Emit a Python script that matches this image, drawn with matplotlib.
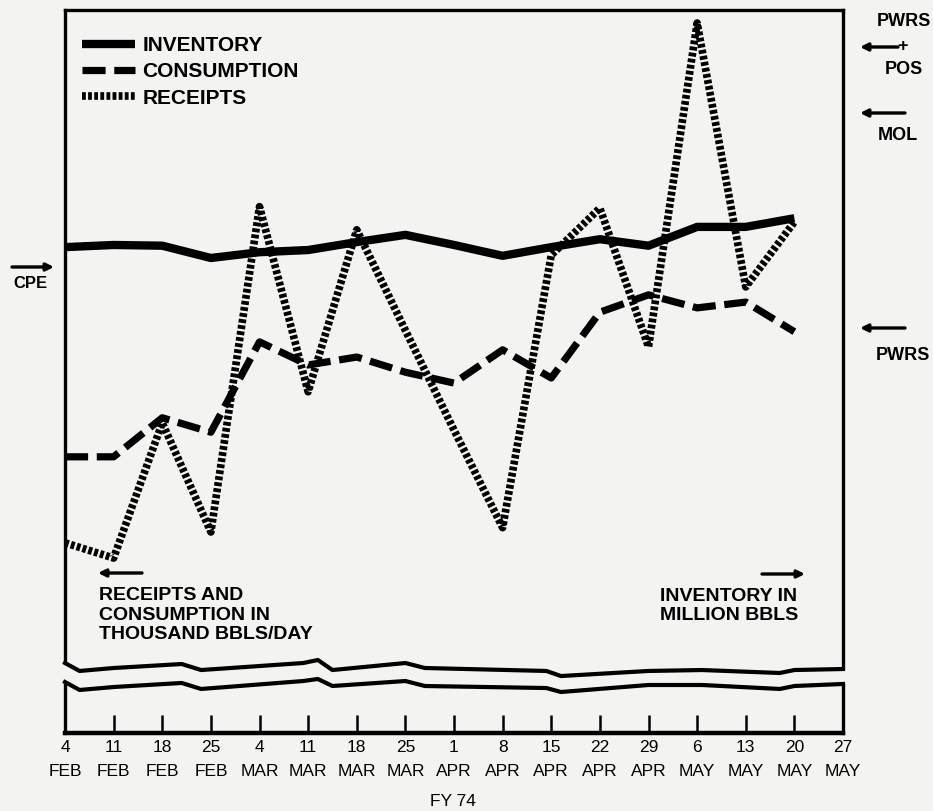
import matplotlib.pyplot as plt

W, H = 933, 811

# week ending dates, FY 74
weeks = ['4\nFEB', '11\nFEB', '18\nFEB', '25\nFEB', '4\nMAR', '11\nMAR', '18\nMAR',
         '25\nMAR', '1\nAPR', '8\nAPR', '15\nAPR', '22\nAPR', '29\nAPR', '6\nMAY',
         '13\nMAY', '20\nMAY', '27\nMAY']

# values (chart units, no scale printed on the original)
inventory = [67.2, 67.5, 67.4, 65.7, 66.5, 66.8, 67.9, 68.9, 67.5, 66.0, 67.2, 68.3,
             67.4, 70.0, 70.0, 71.2]
consumption = [38.2, 38.2, 43.6, 41.6, 54.1, 50.9, 52.0, 49.9, 48.4, 53.0, 49.1, 58.2,
               60.6, 58.8, 59.6, 55.5]
receipts = [26.3, 24.2, 42.9, 27.8, 72.8, 47.2, 69.6, 55.7, 41.9, 28.4, 66.1, 72.6,
            53.4, 98.2, 61.7, 70.7]

# wavy scale-break edges
break_x = [0, 0.3, 1, 2.4, 2.8, 4.9, 5.2, 5.5, 7.0, 7.4, 9.9, 10.2, 12.0, 13.1, 14.7, 15.0, 16]
break_top = [9.68, 8.58, 8.99, 9.54, 8.71, 9.68, 10.10, 8.71, 9.68, 8.99, 8.58, 7.88,
             8.58, 8.71, 8.30, 8.71, 8.85]
break_bot = [7.05, 5.95, 6.36, 6.92, 6.09, 7.19, 7.47, 6.50, 7.19, 6.50, 6.22, 5.67,
             6.64, 6.64, 6.09, 6.50, 6.78]

BG = '#f3f3f1'
plt.rcParams['font.family'] = ['Liberation Sans', 'DejaVu Sans']


def fp(x, y):
    # image pixels -> figure fraction
    return (x / W, 1 - y / H)


def arrow(x0, y0, x1, y1):
    ax.annotate('', xy=fp(x1, y1), xytext=fp(x0, y0), xycoords='figure fraction',
                annotation_clip=False,
                arrowprops=dict(arrowstyle='-|>', lw=2.4, color='black',
                                mutation_scale=11, shrinkA=0, shrinkB=0))


fig = plt.figure(figsize=(W / 100, H / 100), dpi=100, facecolor=BG)
ax = fig.add_axes([65 / W, 1 - 733 / H, 778 / W, 723 / H])
ax.set_facecolor(BG)

x = range(len(inventory))
ax.plot(x, inventory, color='black', lw=6, solid_capstyle='butt',
        solid_joinstyle='round', label='INVENTORY')
ax.plot(x, consumption, color='black', lw=5.2, ls=(0, (3.2, 1.2)),
        dash_capstyle='butt', label='CONSUMPTION')
ax.plot(x, receipts, color='black', lw=5.5, ls=(0, (0.5, 0.3)),
        dash_capstyle='butt', label='RECEIPTS')

ax.set_xlim(0, 16)
ax.set_ylim(0, 100)
ax.set_yticks([])
ax.set_xticks(range(len(weeks)))
ax.set_xticklabels(weeks, fontsize=12.5, linespacing=1.75)
ax.tick_params(axis='x', direction='in', length=13, width=1.8, pad=5)

for side in ['left', 'right', 'top']:
    ax.spines[side].set_linewidth(2.4)
ax.spines['bottom'].set_linewidth(3.2)

# scale break
bx = [-0.08] + break_x + [16.08]
bt = [break_top[0]] + break_top + [break_top[-1]]
bb = [break_bot[0]] + break_bot + [break_bot[-1]]
ax.fill_between(bx, bb, bt, color=BG, zorder=3, clip_on=False, lw=0)
ax.plot(break_x, break_top, color='black', lw=3, zorder=4, clip_on=False)
ax.plot(break_x, break_bot, color='black', lw=3, zorder=4, clip_on=False)

leg = ax.legend(loc='upper left', bbox_to_anchor=fp(82, 36), bbox_transform=fig.transFigure,
                frameon=False, borderpad=0, borderaxespad=0, handlelength=2.55,
                handletextpad=0.35, labelspacing=0.35,
                prop={'size': 15, 'weight': 'bold'})

bold = dict(fontsize=13, fontweight='bold', color='black')
big = dict(fontsize=14, fontweight='bold', color='black')

fig.text(*fp(453, 801), 'FY 74', ha='center', va='center', fontsize=12.5)

# left scale notes
arrow(12, 267, 54, 267)
fig.text(*fp(13, 283), 'CPE', ha='left', va='center', fontsize=12, fontweight='bold')

arrow(142, 573, 98, 573)
fig.text(*fp(99, 615), 'RECEIPTS AND\nCONSUMPTION IN\nTHOUSAND BBLS/DAY',
         ha='left', va='center', linespacing=1.22, **big)

arrow(762, 574, 805, 574)
fig.text(*fp(660, 606), 'INVENTORY IN\nMILLION BBLS', ha='left', va='center',
         linespacing=1.22, **big)

# right scale notes
fig.text(*fp(904, 22), 'PWRS', ha='center', va='center', **bold)
arrow(898, 47, 860, 47)
fig.text(*fp(903, 47), '+', ha='center', va='center', **bold)
fig.text(*fp(904, 70), 'POS', ha='center', va='center', **bold)

arrow(905, 113, 860, 113)
fig.text(*fp(898, 135), 'MOL', ha='center', va='center', **bold)

arrow(905, 328, 860, 328)
fig.text(*fp(903, 356), 'PWRS', ha='center', va='center', **bold)

fig.savefig('out.png', dpi=100, facecolor=BG)
